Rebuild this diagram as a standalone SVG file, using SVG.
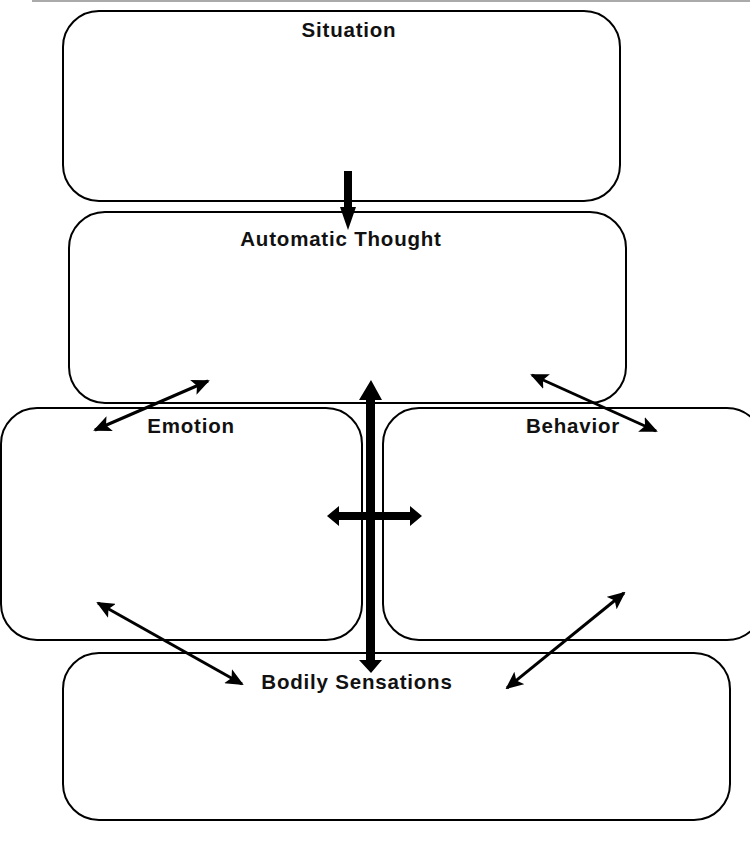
<svg xmlns="http://www.w3.org/2000/svg" width="750" height="845" viewBox="0 0 750 845">
<style>
.box{fill:#fff;stroke:#000;stroke-width:2}
.lbl{font-family:"Liberation Sans",Arial,sans-serif;font-weight:bold;font-size:20.5px;letter-spacing:0.8px;fill:#111;text-anchor:middle}
.thin{stroke:#000;stroke-width:3;fill:none;marker-start:url(#ah);marker-end:url(#ah)}
</style>
<defs>
<marker id="ah" markerUnits="userSpaceOnUse" markerWidth="18" markerHeight="16" refX="16" refY="8" orient="auto-start-reverse" viewBox="0 0 18 16">
<path d="M0,0 L18,8 L0,16 L4,8 Z" fill="#000"/>
</marker>
</defs>
<line x1="32" y1="1" x2="750" y2="1" stroke="#aaa" stroke-width="2"/>
<g id="situation">
<rect class="box" x="63" y="11" width="557" height="190" rx="36" ry="36"/>
<text class="lbl" x="349" y="37">Situation</text>
</g>
<g id="automatic-thought">
<rect class="box" x="69" y="212" width="557" height="191" rx="36" ry="36"/>
<text class="lbl" x="341" y="246">Automatic Thought</text>
</g>
<g id="emotion">
<rect class="box" x="1" y="408" width="361" height="232" rx="36" ry="36"/>
<text class="lbl" x="191" y="433">Emotion</text>
</g>
<g id="behavior">
<rect class="box" x="383" y="408" width="380" height="232" rx="36" ry="36"/>
<text class="lbl" x="573" y="433">Behavior</text>
</g>
<g id="bodily-sensations">
<rect class="box" x="63" y="653" width="667" height="167" rx="36" ry="36"/>
<text class="lbl" x="357" y="689">Bodily Sensations</text>
</g>
<g id="connectors">
<rect x="344" y="171" width="8" height="37" fill="#000"/>
<polygon points="340,207 356,207 348,230" fill="#000"/>
<line class="thin" x1="95" y1="430" x2="208" y2="381"/>
<line class="thin" x1="532" y1="375" x2="656" y2="431"/>
<line class="thin" x1="98" y1="603" x2="242" y2="684"/>
<line class="thin" x1="624" y1="593" x2="507" y2="688"/>
<polygon points="371,380 382,400 375,400 375,660 382,660 371,673 359,660 366,660 366,400 359,400" fill="#000"/>
<polygon points="327,516 339,506 339,512 410,512 410,506 422,516 410,526 410,520 339,520 339,526" fill="#000"/>
</g>
</svg>
